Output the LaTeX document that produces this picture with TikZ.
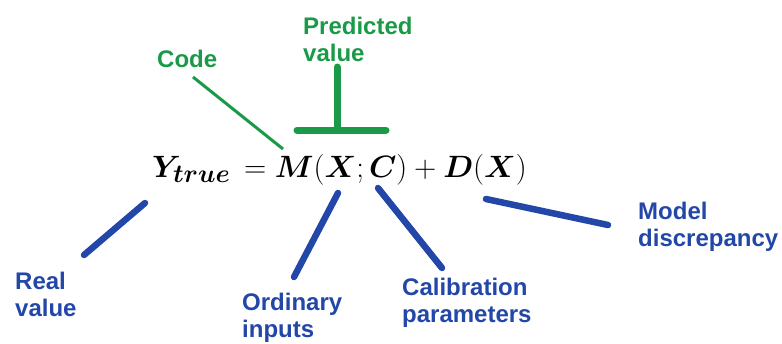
\documentclass[tikz,border=0pt]{standalone}
\usepackage{amsmath,amssymb,bm}
\usepackage{fontspec}
\setsansfont{Liberation Sans}
\usepackage{tikz}
\usetikzlibrary{positioning}
\usepackage{xcolor}
\definecolor{labgreen}{HTML}{1A9A48}
\definecolor{labblue}{HTML}{2347A8}

\begin{document}
\begin{tikzpicture}[
  x=1pt, y=-1pt,
  lab/.style={anchor=north west,inner sep=0pt,align=left,font=\sffamily\bfseries\fontsize{24}{27}\selectfont},
  glab/.style={lab,text=labgreen},
  blab/.style={lab,text=labblue},
  gthin/.style={draw=labgreen,line width=3pt},
  gthick/.style={draw=labgreen,line width=7pt,line cap=round},
  bline/.style={draw=labblue,line width=6.5pt,line cap=round}
]
\useasboundingbox (0,0) rectangle (782,343);
% equation
\node[anchor=base west,inner sep=0pt,font=\Huge] (eq) at (152,177)
  {\scalebox{1.24}{$\bm{Y}_{\bm{true}}\, = \bm{M}(\bm{X}; \bm{C}) + \bm{D}(\bm{X})$}};
% labels
\node[glab] (code) at (157,50) {Code};
\node[glab] (pred) at (303,17) {Predicted\\value};
\node[blab] (real) at (15,272) {Real\\value};
\node[blab] (inputs) at (242,293) {Ordinary\\inputs};
\node[blab] (calib) at (402,278) {Calibration\\parameters};
\node[blab] (discr) at (638,202) {Model\\discrepancy};
% connector ends
\coordinate (codeA) at (193,77);
\coordinate (codeB) at (283,149);
\coordinate (predA) at (337,67);
\coordinate (predB) at (337,130);
\coordinate (barL) at (297,130);
\coordinate (barR) at (386,130);
\coordinate (realA) at (145,203);
\coordinate (realB) at (84,255);
\coordinate (inA) at (338,193);
\coordinate (inB) at (294,277);
\coordinate (calA) at (378,188);
\coordinate (calB) at (442,268);
\coordinate (disA) at (486,199);
\coordinate (disB) at (608,225);
% connectors
\draw[gthin] (codeA)--(codeB);
\draw[gthick] (predA)--(predB);
\draw[gthick] (barL)--(barR);
\draw[bline] (realA)--(realB);
\draw[bline] (inA)--(inB);
\draw[bline] (calA)--(calB);
\draw[bline] (disA)--(disB);
\end{tikzpicture}
\end{document}
